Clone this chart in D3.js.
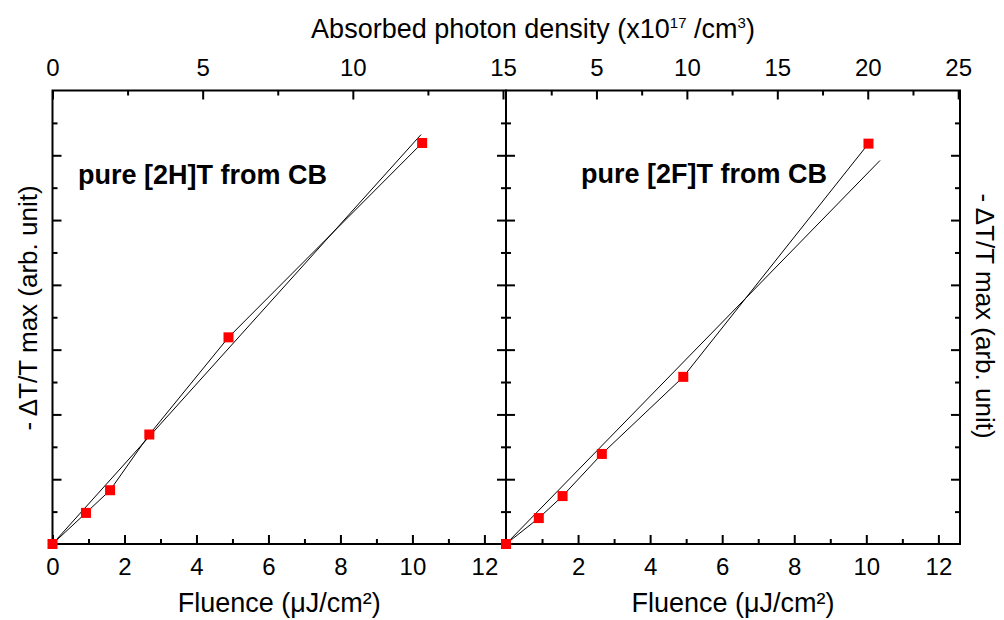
<!DOCTYPE html>
<html>
<head>
<meta charset="utf-8">
<script src="https://cdn.jsdelivr.net/npm/d3@7"></script>
<style>
    body { margin: 0; background: #fff; }
    svg { display: block; }
    text { font-family: "Liberation Sans", Arial, sans-serif; fill: #000; }
</style>
</head>
<body>
<svg></svg>
<script>
// data (fluence in uJ/cm2, signal in arb. units)
const fluence_2H = [0, 0.93, 1.6, 2.69, 4.89, 10.27];
const signal_2H = [0, 0.48, 0.83, 1.69, 3.19, 6.19];
const fit_x_2H = [0, 10.24];
const fit_y_2H = [0, 6.32];

const fluence_2F = [0, 0.91, 1.57, 2.66, 4.92, 10.06];
const signal_2F = [0, 0.40, 0.74, 1.39, 2.58, 6.18];
const fit_x_2F = [0, 10.38];
const fit_y_2F = [0, 5.92];

const panel_labels = ["pure [2H]T from CB", "pure [2F]T from CB"];

const fluence_major = [0, 2, 4, 6, 8, 10, 12];
const fluence_minor = [1, 3, 5, 7, 9, 11];
const density_major_left = [0, 5, 10, 15];
const density_minor_left = [2.5, 7.5, 12.5];
const density_major_right = [5, 10, 15, 20, 25];
const density_minor_right = [2.5, 7.5, 12.5, 17.5, 22.5];
const y_major = [1, 2, 3, 4, 5, 6];
const y_minor = [0.5, 1.5, 2.5, 3.5, 4.5, 5.5, 6.5];

const svg = d3.select("svg").attr("width", 1004).attr("height", 620);
const top_y = 90.5, bottom_y = 544;
const left_x = 52.5, mid_x = 506, right_x = 960;

const y = d3.scaleLinear().domain([0, 7]).range([bottom_y, top_y]);

const panels = [
    {
        x0: left_x, x1: mid_x,
        fx: fluence_2H, fy: signal_2H, fitx: fit_x_2H, fity: fit_y_2H,
        label: panel_labels[0], lx: 78, ly: 184,
        bottom_ticks: fluence_major,
        top_domain: [0, 15.1], top_major: density_major_left, top_minor: density_minor_left
    },
    {
        x0: mid_x, x1: right_x,
        fx: fluence_2F, fy: signal_2F, fitx: fit_x_2F, fity: fit_y_2F,
        label: panel_labels[1], lx: 581, ly: 183,
        bottom_ticks: fluence_major.slice(1),
        top_domain: [0, 25.1], top_major: density_major_right, top_minor: density_minor_right
    }
];

function style_axis(g) {
    g.select(".domain").remove();
    g.selectAll(".tick line").attr("stroke", "#000").attr("stroke-width", 2);
    g.selectAll(".tick text").attr("font-size", 24).attr("fill", "#000")
        .attr("font-family", "Liberation Sans, Arial, sans-serif");
}

panels.forEach(function (p) {
    const x = d3.scaleLinear().domain([0, 12.6]).range([p.x0, p.x1]);
    const xt = d3.scaleLinear().domain(p.top_domain).range([p.x0, p.x1]);

    // bottom fluence axis, ticks pointing in
    svg.append("g").attr("transform", `translate(0, ${bottom_y})`)
        .call(d3.axisBottom(x).tickValues(p.bottom_ticks).tickSize(-9).tickPadding(14).tickFormat(d3.format("d")))
        .call(style_axis);
    svg.append("g").attr("transform", `translate(0, ${bottom_y})`)
        .call(d3.axisBottom(x).tickValues(fluence_minor).tickSize(-5).tickFormat(""))
        .call(style_axis);

    // top photon density axis
    svg.append("g").attr("transform", `translate(0, ${top_y})`)
        .call(d3.axisTop(xt).tickValues(p.top_major).tickSize(-9).tickPadding(15).tickFormat(d3.format("d")))
        .call(style_axis);
    svg.append("g").attr("transform", `translate(0, ${top_y})`)
        .call(d3.axisTop(xt).tickValues(p.top_minor).tickSize(-5).tickFormat(""))
        .call(style_axis);

    // left and right y ticks, no labels
    [[d3.axisLeft, p.x0], [d3.axisRight, p.x1]].forEach(function (a) {
        svg.append("g").attr("transform", `translate(${a[1]}, 0)`)
            .call(a[0](y).tickValues(y_major).tickSize(-9).tickFormat(""))
            .call(style_axis);
        svg.append("g").attr("transform", `translate(${a[1]}, 0)`)
            .call(a[0](y).tickValues(y_minor).tickSize(-5).tickFormat(""))
            .call(style_axis);
    });

    svg.append("rect")
        .attr("x", p.x0).attr("y", top_y)
        .attr("width", p.x1 - p.x0).attr("height", bottom_y - top_y)
        .attr("fill", "none").attr("stroke", "#000").attr("stroke-width", 2);

    const line = d3.line().x(function (d) { return x(d[0]); }).y(function (d) { return y(d[1]); });

    // linear fit
    svg.append("path")
        .attr("d", line(d3.zip(p.fitx, p.fity)))
        .attr("fill", "none").attr("stroke", "#000").attr("stroke-width", 1);

    // data connected
    const pts = d3.zip(p.fx, p.fy);
    svg.append("path")
        .attr("d", line(pts))
        .attr("fill", "none").attr("stroke", "#000").attr("stroke-width", 1);

    svg.append("g").selectAll("rect").data(pts).join("rect")
        .attr("x", function (d) { return x(d[0]) - 5; })
        .attr("y", function (d) { return y(d[1]) - 5; })
        .attr("width", 10).attr("height", 10)
        .attr("fill", "#ff0000");

    svg.append("text")
        .attr("x", p.lx).attr("y", p.ly)
        .attr("font-size", 27).attr("font-weight", "bold")
        .text(p.label);

    svg.append("text")
        .attr("x", (p.x0 + p.x1) / 2).attr("y", 612)
        .attr("text-anchor", "middle").attr("font-size", 27)
        .text("Fluence (μJ/cm²)");
});

// top title with superscripts
const title = svg.append("text")
    .attr("x", 533).attr("y", 38)
    .attr("text-anchor", "middle").attr("font-size", 27);
title.append("tspan").text("Absorbed photon density (x10");
title.append("tspan").attr("font-size", 15).attr("dy", -10).text("17");
title.append("tspan").attr("dy", 10).text(" /cm");
title.append("tspan").attr("font-size", 15).attr("dy", -10).text("3");
title.append("tspan").attr("dy", 10).text(")");

svg.append("text")
    .attr("transform", "translate(37, 308) rotate(-90)")
    .attr("text-anchor", "middle").attr("font-size", 26)
    .text("- ΔT/T max (arb. unit)");

svg.append("text")
    .attr("transform", "translate(976, 316) rotate(90)")
    .attr("text-anchor", "middle").attr("font-size", 26)
    .text("- ΔT/T max (arb. unit)");
</script>
</body>
</html>
